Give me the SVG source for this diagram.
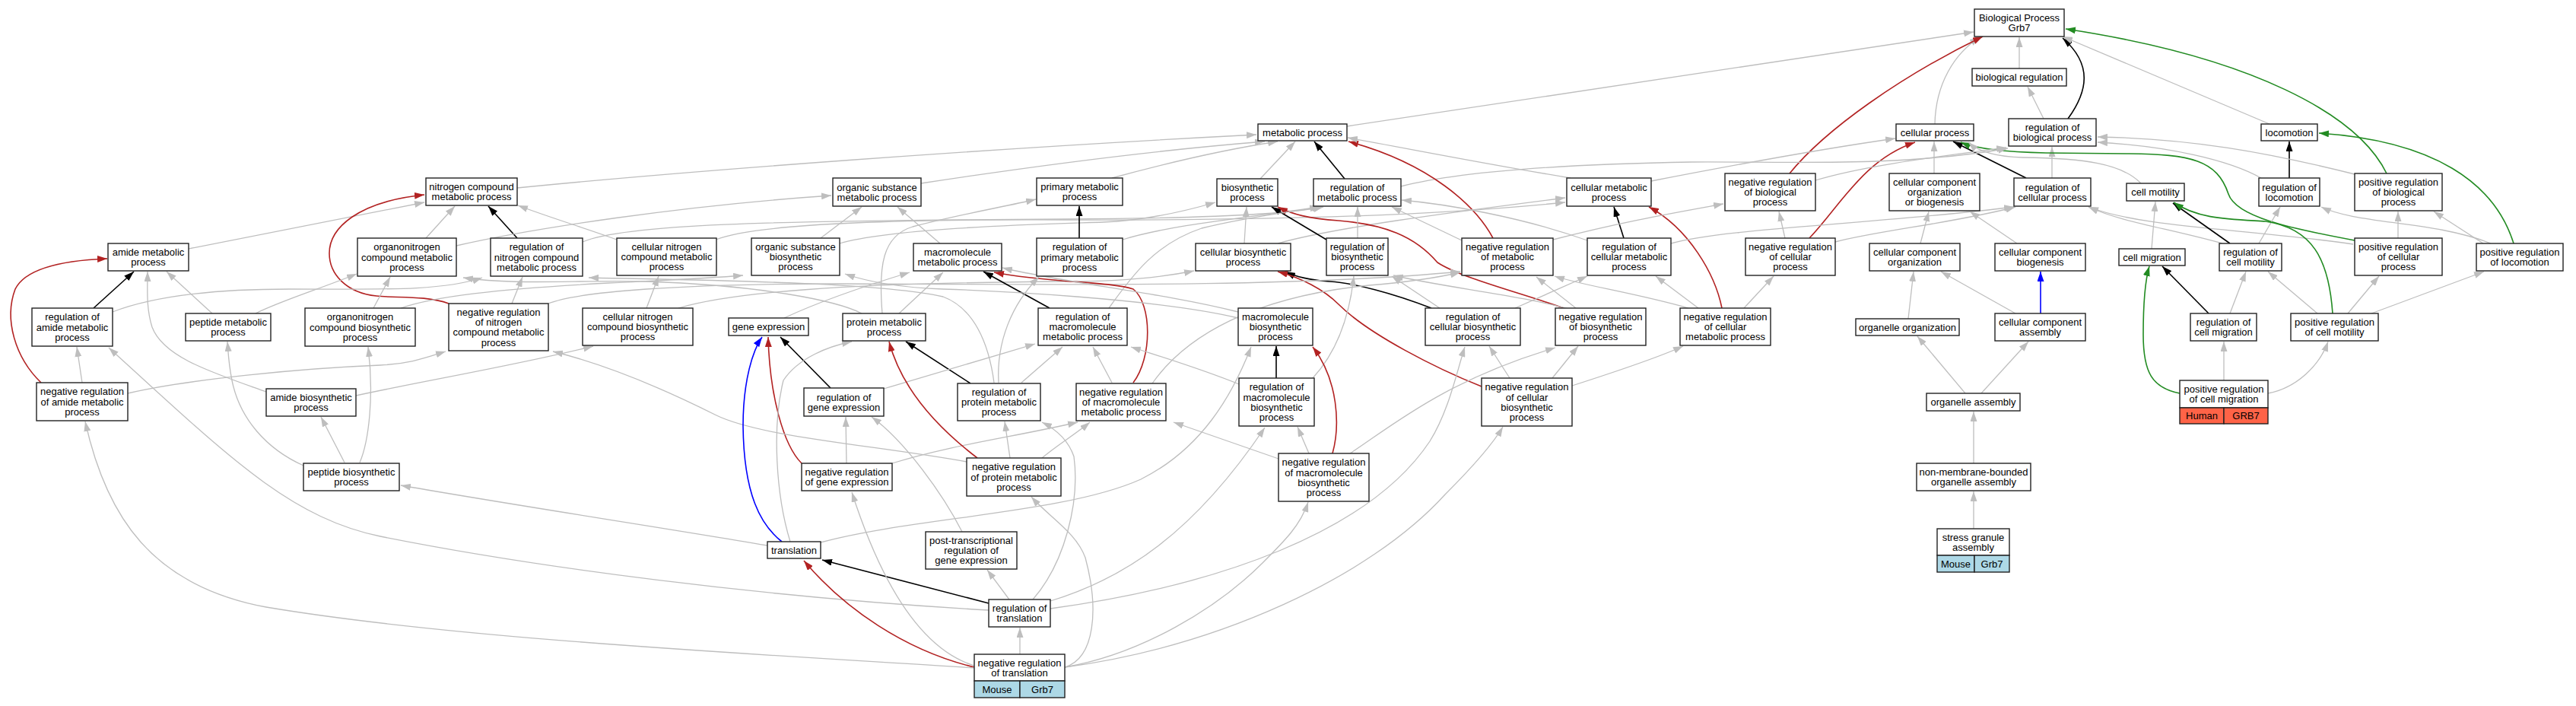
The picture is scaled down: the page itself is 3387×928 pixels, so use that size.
<svg xmlns="http://www.w3.org/2000/svg" width="3387" height="928" viewBox="0 0 3387 928">
<style>
.e{fill:none;stroke-width:1.3}
.g{stroke:#bebebe;marker-end:url(#ag)}
.k{stroke:#000;stroke-width:1.6;marker-end:url(#ak)}
.r{stroke:#b22222;stroke-width:1.6;marker-end:url(#ar)}
.n{stroke:#228b22;stroke-width:1.6;marker-end:url(#an)}
.b{stroke:#0000ff;stroke-width:1.6;marker-end:url(#ab)}
.box{fill:#fff;stroke:#222;stroke-width:1.4}
.mo{fill:#add8e6;stroke:#222;stroke-width:1.4}
.hu{fill:#ff6347;stroke:#222;stroke-width:1.4}
text{font-family:"Liberation Sans",Arial,sans-serif;font-size:13px;text-anchor:middle;fill:#000}
</style>
<defs>
<marker id="ag" viewBox="0 0 13 9" refX="13" refY="4.5" markerWidth="13" markerHeight="9" markerUnits="userSpaceOnUse" orient="auto"><path d="M0,0L13,4.5L0,9z" fill="#bebebe"/></marker>
<marker id="ak" viewBox="0 0 13 9" refX="13" refY="4.5" markerWidth="13" markerHeight="9" markerUnits="userSpaceOnUse" orient="auto"><path d="M0,0L13,4.5L0,9z" fill="#000"/></marker>
<marker id="ar" viewBox="0 0 13 9" refX="13" refY="4.5" markerWidth="13" markerHeight="9" markerUnits="userSpaceOnUse" orient="auto"><path d="M0,0L13,4.5L0,9z" fill="#b22222"/></marker>
<marker id="an" viewBox="0 0 13 9" refX="13" refY="4.5" markerWidth="13" markerHeight="9" markerUnits="userSpaceOnUse" orient="auto"><path d="M0,0L13,4.5L0,9z" fill="#228b22"/></marker>
<marker id="ab" viewBox="0 0 13 9" refX="13" refY="4.5" markerWidth="13" markerHeight="9" markerUnits="userSpaceOnUse" orient="auto"><path d="M0,0L13,4.5L0,9z" fill="#0000ff"/></marker>
</defs>
<rect width="3387" height="928" fill="#fff"/>
<g id="edges">
<path class="e g" d="M2655,90 L2655,49"/>
<path class="e g" d="M2544,163 C2545,110 2570,70 2603,49"/>
<path class="e g" d="M2687,156 L2666,114"/>
<path class="e k" d="M2719,156 C2745,120 2752,85 2712,50"/>
<path class="e g" d="M2984,163 L2712,48"/>
<path class="e g" d="M1771,166 L2595,42"/>
<path class="e r" d="M2353,228 C2400,170 2500,100 2607,48"/>
<path class="e n" d="M3138,228 C3100,150 2960,75 2716,38"/>
<path class="e g" d="M2543,228 L2543,186"/>
<path class="e k" d="M2664,234 L2568,186"/>
<path class="e g" d="M2698,234 L2698,193"/>
<path class="e n" d="M3096,316 C3010,300 2940,285 2930,255 C2915,210 2880,203 2800,202 L2690,201 C2640,200 2600,196 2578,187"/>
<path class="e g" d="M2815,241 C2790,215 2740,208 2660,207 C2620,206 2600,198 2588,187"/>
<path class="e g" d="M2171,238 C2300,213 2400,195 2492,182"/>
<path class="e r" d="M2379,313 C2420,270 2450,210 2518,187"/>
<path class="e g" d="M2387,237 C2450,218 2540,207 2638,194"/>
<path class="e g" d="M1842,245 C1920,225 2050,216 2223,213 C2350,212 2500,220 2640,195"/>
<path class="e k" d="M3010,234 L3010,186"/>
<path class="e g" d="M2973,234 C2930,210 2850,192 2758,187"/>
<path class="e g" d="M3096,229 C2980,200 2880,182 2758,180"/>
<path class="e g" d="M3153,313 L3153,278"/>
<path class="e g" d="M3094,321 C2950,300 2820,300 2746,272"/>
<path class="e g" d="M2922,320 C2850,300 2790,292 2746,272"/>
<path class="e k" d="M2932,320 L2857,267"/>
<path class="e g" d="M2970,320 L2998,272"/>
<path class="e g" d="M3275,320 C3200,290 3100,295 3052,272"/>
<path class="e g" d="M3265,320 L3200,278"/>
<path class="e n" d="M3305,320 C3280,240 3200,185 3049,175"/>
<path class="e g" d="M2829,327 L2834,265"/>
<path class="e k" d="M2904,412 L2843,350"/>
<path class="e g" d="M2932,412 L2953,357"/>
<path class="e g" d="M3047,412 L2982,357"/>
<path class="e g" d="M3087,412 L3128,363"/>
<path class="e g" d="M3118,412 L3266,357"/>
<path class="e n" d="M3067,412 C3062,340 3040,300 2979,291 C2930,288 2890,288 2858,266"/>
<path class="e g" d="M2924,500 L2924,449"/>
<path class="e g" d="M2982,517 C3020,510 3050,480 3061,449"/>
<path class="e n" d="M2866,517 C2830,510 2818,490 2818,440 C2818,400 2820,370 2826,350"/>
<path class="e g" d="M2525,320 L2536,278"/>
<path class="e g" d="M2652,320 L2590,278"/>
<path class="e b" d="M2683,412 L2683,357"/>
<path class="e g" d="M2650,412 L2552,357"/>
<path class="e g" d="M2509,419 L2516,357"/>
<path class="e g" d="M2584,517 L2521,442"/>
<path class="e g" d="M2605,517 L2667,449"/>
<path class="e g" d="M2595,609 L2595,541"/>
<path class="e g" d="M2595,695 L2595,646"/>
<path class="e g" d="M680,247 C900,225 1300,195 1652,177"/>
<path class="e g" d="M1211,241 C1400,212 1550,195 1663,186"/>
<path class="e g" d="M1462,234 C1550,210 1620,195 1680,186"/>
<path class="e g" d="M1657,235 L1703,186"/>
<path class="e k" d="M1768,235 L1728,186"/>
<path class="e r" d="M1963,313 C1940,270 1880,215 1773,186"/>
<path class="e g" d="M2065,234 C1950,215 1850,195 1772,181"/>
<path class="e g" d="M248,327 L558,266"/>
<path class="e g" d="M560,313 L598,271"/>
<path class="e k" d="M680,313 L642,271"/>
<path class="e g" d="M811,315 C770,300 720,285 681,270"/>
<path class="e r" d="M590,399 C560,388 520,392 495,389 C455,385 433,360 433,333 C433,300 470,265 558,256"/>
<path class="e g" d="M600,323 C700,300 900,270 1093,257"/>
<path class="e g" d="M766,318 C820,295 1000,290 1400,288 C1600,287 1700,280 1740,272"/>
<path class="e g" d="M941,315 C1000,292 1200,288 1400,289 C1700,290 1900,282 2058,266"/>
<path class="e g" d="M1680,320 C1750,300 1900,280 2058,260"/>
<path class="e g" d="M1079,313 L1133,272"/>
<path class="e g" d="M1104,320 C1180,298 1400,294 1450,292 C1500,290 1550,280 1598,266"/>
<path class="e g" d="M1236,320 L1180,272"/>
<path class="e g" d="M1160,412 C1155,350 1160,310 1200,298 C1260,282 1320,272 1362,262"/>
<path class="e k" d="M1419,313 L1419,271"/>
<path class="e g" d="M1476,315 C1540,295 1650,285 1735,272"/>
<path class="e g" d="M1636,320 L1639,272"/>
<path class="e k" d="M1744,315 L1672,272"/>
<path class="e r" d="M2056,405 C2000,385 1920,365 1890,345 C1860,310 1820,295 1760,290 C1720,287 1700,282 1680,272"/>
<path class="e g" d="M1785,313 L1785,272"/>
<path class="e g" d="M1922,316 L1830,272"/>
<path class="e g" d="M2087,316 C2000,285 1900,268 1843,263"/>
<path class="e g" d="M1458,405 C1490,360 1520,320 1580,300 C1640,285 1700,278 1738,272"/>
<path class="e k" d="M2135,313 L2122,272"/>
<path class="e r" d="M2264,405 C2255,360 2220,300 2168,272"/>
<path class="e g" d="M2197,320 C2270,300 2450,296 2648,272"/>
<path class="e g" d="M2413,318 C2470,303 2570,293 2650,272"/>
<path class="e g" d="M2347,313 L2339,278"/>
<path class="e g" d="M2042,315 C2130,292 2200,280 2266,268"/>
<path class="e g" d="M2293,405 L2332,363"/>
<path class="e g" d="M2233,405 L2177,363"/>
<path class="e g" d="M2220,405 C2150,385 2080,375 2044,363"/>
<path class="e g" d="M1992,405 L2087,363"/>
<path class="e g" d="M1893,405 L1830,363"/>
<path class="e k" d="M1882,405 C1830,385 1780,372 1748,370 C1720,368 1700,362 1690,357"/>
<path class="e g" d="M2072,405 L2020,364"/>
<path class="e g" d="M2070,408 C2000,388 1900,378 1832,362"/>
<path class="e r" d="M1948,508 C1890,485 1800,440 1760,400 C1740,380 1710,365 1680,357"/>
<path class="e g" d="M1985,497 L1958,455"/>
<path class="e g" d="M2041,497 L2075,455"/>
<path class="e g" d="M2067,507 C2120,490 2180,470 2213,455"/>
<path class="e k" d="M123,405 L176,357"/>
<path class="e g" d="M148,410 C200,390 280,380 380,380 C500,380 580,383 634,365"/>
<path class="e g" d="M279,412 L219,357"/>
<path class="e g" d="M336,412 C370,395 420,380 469,360"/>
<path class="e g" d="M350,515 C280,490 215,470 200,430 C192,405 194,380 194,357"/>
<path class="e g" d="M468,520 C560,500 680,480 780,455"/>
<path class="e g" d="M491,405 L513,364"/>
<path class="e g" d="M527,405 C570,390 650,380 800,372 C880,368 930,366 977,362"/>
<path class="e g" d="M673,399 L687,364"/>
<path class="e g" d="M721,399 C760,383 900,373 1100,373 C1400,374 1700,378 1920,357"/>
<path class="e g" d="M850,405 L866,363"/>
<path class="e g" d="M892,405 C960,385 1100,372 1400,370 C1480,370 1530,364 1570,356"/>
<path class="e r" d="M54,503 C20,470 5,420 20,380 C35,350 90,342 141,340"/>
<path class="e g" d="M108,503 L101,456"/>
<path class="e g" d="M168,517 C250,498 400,484 500,480 C540,478 560,470 586,462"/>
<path class="e g" d="M453,608 L422,548"/>
<path class="e g" d="M399,612 C350,590 315,550 305,500 C300,475 300,460 299,449"/>
<path class="e g" d="M473,608 C485,580 492,520 484,456"/>
<path class="e g" d="M1031,418 C1080,395 1140,375 1196,358"/>
<path class="e g" d="M1182,412 L1240,358"/>
<path class="e g" d="M1133,412 C1100,395 1000,375 850,370 C750,368 680,375 609,365"/>
<path class="e k" d="M1380,405 L1293,357"/>
<path class="e r" d="M1490,503 C1515,470 1515,400 1490,380 C1460,370 1380,372 1307,358"/>
<path class="e g" d="M1628,410 C1530,385 1400,372 1318,352"/>
<path class="e g" d="M1628,418 C1520,392 1300,382 1240,380 C1180,378 1140,370 1111,360"/>
<path class="e g" d="M1313,503 C1310,450 1330,400 1366,364"/>
<path class="e g" d="M1307,503 C1300,450 1280,405 1240,390 C1150,370 900,368 774,365"/>
<path class="e k" d="M1276,504 L1191,449"/>
<path class="e g" d="M1343,503 L1397,456"/>
<path class="e k" d="M1092,510 L1026,443"/>
<path class="e g" d="M1162,511 C1250,485 1300,470 1361,452"/>
<path class="e g" d="M1462,503 L1437,456"/>
<path class="e g" d="M1515,504 C1560,440 1650,390 1800,375 C1860,370 1890,365 1920,358"/>
<path class="e g" d="M1629,505 C1580,485 1530,470 1487,456"/>
<path class="e k" d="M1678,497 L1678,455"/>
<path class="e g" d="M1726,497 C1760,460 1775,410 1780,363"/>
<path class="e r" d="M1752,596 C1762,560 1760,500 1726,456"/>
<path class="e g" d="M1721,596 L1706,561"/>
<path class="e g" d="M1681,603 L1543,555"/>
<path class="e g" d="M1775,596 C1830,560 1900,500 2045,457"/>
<path class="e r" d="M1054,609 C1030,585 1012,520 1010,443"/>
<path class="e g" d="M1113,609 L1112,548"/>
<path class="e g" d="M1173,609 C1250,585 1330,575 1417,555"/>
<path class="e r" d="M1285,602 C1230,560 1185,510 1169,449"/>
<path class="e g" d="M1328,602 L1321,554"/>
<path class="e g" d="M1271,607 C1150,585 1000,575 940,545 C880,515 800,480 727,462"/>
<path class="e g" d="M1370,602 C1390,585 1415,570 1433,555"/>
<path class="e g" d="M1265,699 C1240,650 1190,580 1146,548"/>
<path class="e b" d="M1028,712 C1000,690 978,650 977,560 C977,500 990,460 1002,443"/>
<path class="e g" d="M1009,717 C850,690 700,668 527,638"/>
<path class="e g" d="M1039,712 C1020,650 1015,560 1030,500 C1050,470 1090,455 1120,449"/>
<path class="e g" d="M1079,713 C1200,680 1400,675 1500,630 C1580,590 1620,520 1645,456"/>
<path class="e k" d="M1300,793 L1081,736"/>
<path class="e g" d="M1327,788 L1298,749"/>
<path class="e g" d="M1300,802 C1000,785 700,745 500,705 C380,680 300,600 143,457"/>
<path class="e g" d="M1381,790 C1480,760 1570,700 1663,562"/>
<path class="e g" d="M1381,800 C1600,770 1800,700 1880,580 C1905,540 1915,490 1926,456"/>
<path class="e g" d="M1358,788 C1400,740 1420,660 1412,600 C1405,580 1390,565 1370,555"/>
<path class="e r" d="M1281,877 C1190,855 1110,800 1057,737"/>
<path class="e g" d="M1341,860 L1341,825"/>
<path class="e g" d="M1281,875 C1200,850 1150,740 1120,647"/>
<path class="e g" d="M1281,878 C1000,860 600,840 350,798 C200,770 140,680 112,554"/>
<path class="e g" d="M1400,877 C1440,865 1445,800 1427,733 C1415,700 1380,680 1356,653"/>
<path class="e g" d="M1400,877 C1500,860 1600,800 1660,740 C1690,710 1710,690 1720,660"/>
<path class="e g" d="M1400,877 C1600,850 1800,760 1900,650 C1940,610 1965,580 1976,561"/>
</g>
<g id="n_bp"><rect class="box" x="2596" y="12" width="118" height="36"/><text x="2655" y="28"><tspan x="2655">Biological Process</tspan><tspan x="2655" dy="13.3">Grb7</tspan></text></g>
<g id="n_bioreg"><rect class="box" x="2593" y="90" width="124" height="23"/><text x="2655" y="106">biological regulation</text></g>
<g id="n_cellproc"><rect class="box" x="2493" y="163" width="102" height="22"/><text x="2544" y="178.6">cellular process</text></g>
<g id="n_regbp"><rect class="box" x="2641" y="156" width="115" height="36"/><text x="2698.5" y="172"><tspan x="2698.5">regulation of</tspan><tspan x="2698.5" dy="13.3">biological process</tspan></text></g>
<g id="n_loco"><rect class="box" x="2973" y="163" width="74" height="22"/><text x="3010" y="178.6">locomotion</text></g>
<g id="n_metab"><rect class="box" x="1654" y="163" width="117" height="22"/><text x="1712.5" y="178.6">metabolic process</text></g>
<g id="n_nitro"><rect class="box" x="560" y="234" width="120" height="36"/><text x="620" y="250"><tspan x="620">nitrogen compound</tspan><tspan x="620" dy="13.3">metabolic process</tspan></text></g>
<g id="n_orgsub"><rect class="box" x="1095" y="234" width="116" height="37"/><text x="1153" y="250.5"><tspan x="1153">organic substance</tspan><tspan x="1153" dy="13.3">metabolic process</tspan></text></g>
<g id="n_primary"><rect class="box" x="1363" y="234" width="113" height="36"/><text x="1419.5" y="250"><tspan x="1419.5">primary metabolic</tspan><tspan x="1419.5" dy="13.3">process</tspan></text></g>
<g id="n_biosyn"><rect class="box" x="1600" y="235" width="80" height="36"/><text x="1640" y="251"><tspan x="1640">biosynthetic</tspan><tspan x="1640" dy="13.3">process</tspan></text></g>
<g id="n_regmetab"><rect class="box" x="1727" y="235" width="115" height="36"/><text x="1784.5" y="251"><tspan x="1784.5">regulation of</tspan><tspan x="1784.5" dy="13.3">metabolic process</tspan></text></g>
<g id="n_cellmetab"><rect class="box" x="2060" y="234" width="111" height="37"/><text x="2115.5" y="250.5"><tspan x="2115.5">cellular metabolic</tspan><tspan x="2115.5" dy="13.3">process</tspan></text></g>
<g id="n_negregbp"><rect class="box" x="2268" y="228" width="119" height="49"/><text x="2327.5" y="243.8"><tspan x="2327.5">negative regulation</tspan><tspan x="2327.5" dy="13.3">of biological</tspan><tspan x="2327.5" dy="13.3">process</tspan></text></g>
<g id="n_ccob"><rect class="box" x="2484" y="228" width="119" height="49"/><text x="2543.5" y="243.8"><tspan x="2543.5">cellular component</tspan><tspan x="2543.5" dy="13.3">organization</tspan><tspan x="2543.5" dy="13.3">or biogenesis</tspan></text></g>
<g id="n_regcp"><rect class="box" x="2648" y="234" width="101" height="37"/><text x="2698.5" y="250.5"><tspan x="2698.5">regulation of</tspan><tspan x="2698.5" dy="13.3">cellular process</tspan></text></g>
<g id="n_cellmot"><rect class="box" x="2796" y="241" width="76" height="23"/><text x="2834" y="257">cell motility</text></g>
<g id="n_regloc"><rect class="box" x="2970" y="234" width="80" height="37"/><text x="3010" y="250.5"><tspan x="3010">regulation of</tspan><tspan x="3010" dy="13.3">locomotion</tspan></text></g>
<g id="n_posregbp"><rect class="box" x="3096" y="228" width="115" height="49"/><text x="3153.5" y="243.8"><tspan x="3153.5">positive regulation</tspan><tspan x="3153.5" dy="13.3">of biological</tspan><tspan x="3153.5" dy="13.3">process</tspan></text></g>
<g id="n_amide"><rect class="box" x="142" y="320" width="106" height="36"/><text x="195" y="336"><tspan x="195">amide metabolic</tspan><tspan x="195" dy="13.3">process</tspan></text></g>
<g id="n_orgnitro"><rect class="box" x="470" y="313" width="130" height="50"/><text x="535" y="329.3"><tspan x="535">organonitrogen</tspan><tspan x="535" dy="13.3">compound metabolic</tspan><tspan x="535" dy="13.3">process</tspan></text></g>
<g id="n_regnitro"><rect class="box" x="645" y="313" width="121" height="50"/><text x="705.5" y="329.3"><tspan x="705.5">regulation of</tspan><tspan x="705.5" dy="13.3">nitrogen compound</tspan><tspan x="705.5" dy="13.3">metabolic process</tspan></text></g>
<g id="n_cellnitro"><rect class="box" x="811" y="313" width="131" height="49"/><text x="876.5" y="328.8"><tspan x="876.5">cellular nitrogen</tspan><tspan x="876.5" dy="13.3">compound metabolic</tspan><tspan x="876.5" dy="13.3">process</tspan></text></g>
<g id="n_orgsubbio"><rect class="box" x="988" y="313" width="116" height="49"/><text x="1046" y="328.8"><tspan x="1046">organic substance</tspan><tspan x="1046" dy="13.3">biosynthetic</tspan><tspan x="1046" dy="13.3">process</tspan></text></g>
<g id="n_macro"><rect class="box" x="1201" y="320" width="116" height="36"/><text x="1259" y="336"><tspan x="1259">macromolecule</tspan><tspan x="1259" dy="13.3">metabolic process</tspan></text></g>
<g id="n_regprimary"><rect class="box" x="1363" y="313" width="113" height="50"/><text x="1419.5" y="329.3"><tspan x="1419.5">regulation of</tspan><tspan x="1419.5" dy="13.3">primary metabolic</tspan><tspan x="1419.5" dy="13.3">process</tspan></text></g>
<g id="n_cellbio"><rect class="box" x="1572" y="320" width="125" height="36"/><text x="1634.5" y="336"><tspan x="1634.5">cellular biosynthetic</tspan><tspan x="1634.5" dy="13.3">process</tspan></text></g>
<g id="n_regbio"><rect class="box" x="1744" y="313" width="81" height="49"/><text x="1784.5" y="328.8"><tspan x="1784.5">regulation of</tspan><tspan x="1784.5" dy="13.3">biosynthetic</tspan><tspan x="1784.5" dy="13.3">process</tspan></text></g>
<g id="n_negregmetab"><rect class="box" x="1922" y="313" width="120" height="49"/><text x="1982" y="328.8"><tspan x="1982">negative regulation</tspan><tspan x="1982" dy="13.3">of metabolic</tspan><tspan x="1982" dy="13.3">process</tspan></text></g>
<g id="n_regcellmetab"><rect class="box" x="2087" y="313" width="110" height="49"/><text x="2142" y="328.8"><tspan x="2142">regulation of</tspan><tspan x="2142" dy="13.3">cellular metabolic</tspan><tspan x="2142" dy="13.3">process</tspan></text></g>
<g id="n_negregcp"><rect class="box" x="2295" y="313" width="118" height="49"/><text x="2354" y="328.8"><tspan x="2354">negative regulation</tspan><tspan x="2354" dy="13.3">of cellular</tspan><tspan x="2354" dy="13.3">process</tspan></text></g>
<g id="n_cco"><rect class="box" x="2458" y="320" width="119" height="36"/><text x="2517.5" y="336"><tspan x="2517.5">cellular component</tspan><tspan x="2517.5" dy="13.3">organization</tspan></text></g>
<g id="n_ccbiogen"><rect class="box" x="2623" y="320" width="119" height="36"/><text x="2682.5" y="336"><tspan x="2682.5">cellular component</tspan><tspan x="2682.5" dy="13.3">biogenesis</tspan></text></g>
<g id="n_cellmig"><rect class="box" x="2786" y="327" width="87" height="22"/><text x="2829.5" y="342.6">cell migration</text></g>
<g id="n_regcellmot"><rect class="box" x="2918" y="320" width="82" height="36"/><text x="2959" y="336"><tspan x="2959">regulation of</tspan><tspan x="2959" dy="13.3">cell motility</tspan></text></g>
<g id="n_posregcp"><rect class="box" x="3096" y="313" width="115" height="49"/><text x="3153.5" y="328.8"><tspan x="3153.5">positive regulation</tspan><tspan x="3153.5" dy="13.3">of cellular</tspan><tspan x="3153.5" dy="13.3">process</tspan></text></g>
<g id="n_posregloc"><rect class="box" x="3256" y="320" width="114" height="36"/><text x="3313" y="336"><tspan x="3313">positive regulation</tspan><tspan x="3313" dy="13.3">of locomotion</tspan></text></g>
<g id="n_regamide"><rect class="box" x="42" y="405" width="106" height="50"/><text x="95" y="421.3"><tspan x="95">regulation of</tspan><tspan x="95" dy="13.3">amide metabolic</tspan><tspan x="95" dy="13.3">process</tspan></text></g>
<g id="n_peptide"><rect class="box" x="244" y="412" width="112" height="36"/><text x="300" y="428"><tspan x="300">peptide metabolic</tspan><tspan x="300" dy="13.3">process</tspan></text></g>
<g id="n_orgnitrobio"><rect class="box" x="401" y="405" width="145" height="50"/><text x="473.5" y="421.3"><tspan x="473.5">organonitrogen</tspan><tspan x="473.5" dy="13.3">compound biosynthetic</tspan><tspan x="473.5" dy="13.3">process</tspan></text></g>
<g id="n_negregnitro"><rect class="box" x="590" y="399" width="131" height="62"/><text x="655.5" y="414.6"><tspan x="655.5">negative regulation</tspan><tspan x="655.5" dy="13.3">of nitrogen</tspan><tspan x="655.5" dy="13.3">compound metabolic</tspan><tspan x="655.5" dy="13.3">process</tspan></text></g>
<g id="n_cellnitrobio"><rect class="box" x="766" y="405" width="145" height="49"/><text x="838.5" y="420.8"><tspan x="838.5">cellular nitrogen</tspan><tspan x="838.5" dy="13.3">compound biosynthetic</tspan><tspan x="838.5" dy="13.3">process</tspan></text></g>
<g id="n_geneexp"><rect class="box" x="958" y="418" width="105" height="23"/><text x="1010.5" y="434">gene expression</text></g>
<g id="n_protein"><rect class="box" x="1108" y="412" width="109" height="36"/><text x="1162.5" y="428"><tspan x="1162.5">protein metabolic</tspan><tspan x="1162.5" dy="13.3">process</tspan></text></g>
<g id="n_regmacro"><rect class="box" x="1365" y="405" width="117" height="49"/><text x="1423.5" y="420.8"><tspan x="1423.5">regulation of</tspan><tspan x="1423.5" dy="13.3">macromolecule</tspan><tspan x="1423.5" dy="13.3">metabolic process</tspan></text></g>
<g id="n_macrobio"><rect class="box" x="1628" y="405" width="98" height="49"/><text x="1677" y="420.8"><tspan x="1677">macromolecule</tspan><tspan x="1677" dy="13.3">biosynthetic</tspan><tspan x="1677" dy="13.3">process</tspan></text></g>
<g id="n_regcellbio"><rect class="box" x="1874" y="405" width="125" height="49"/><text x="1936.5" y="420.8"><tspan x="1936.5">regulation of</tspan><tspan x="1936.5" dy="13.3">cellular biosynthetic</tspan><tspan x="1936.5" dy="13.3">process</tspan></text></g>
<g id="n_negregbio"><rect class="box" x="2045" y="405" width="119" height="49"/><text x="2104.5" y="420.8"><tspan x="2104.5">negative regulation</tspan><tspan x="2104.5" dy="13.3">of biosynthetic</tspan><tspan x="2104.5" dy="13.3">process</tspan></text></g>
<g id="n_negregcellmetab"><rect class="box" x="2209" y="405" width="119" height="49"/><text x="2268.5" y="420.8"><tspan x="2268.5">negative regulation</tspan><tspan x="2268.5" dy="13.3">of cellular</tspan><tspan x="2268.5" dy="13.3">metabolic process</tspan></text></g>
<g id="n_orgorg"><rect class="box" x="2440" y="419" width="136" height="22"/><text x="2508" y="434.6">organelle organization</text></g>
<g id="n_ccassembly"><rect class="box" x="2623" y="412" width="119" height="36"/><text x="2682.5" y="428"><tspan x="2682.5">cellular component</tspan><tspan x="2682.5" dy="13.3">assembly</tspan></text></g>
<g id="n_regcellmig"><rect class="box" x="2880" y="412" width="87" height="36"/><text x="2923.5" y="428"><tspan x="2923.5">regulation of</tspan><tspan x="2923.5" dy="13.3">cell migration</tspan></text></g>
<g id="n_posregcellmot"><rect class="box" x="3012" y="412" width="115" height="36"/><text x="3069.5" y="428"><tspan x="3069.5">positive regulation</tspan><tspan x="3069.5" dy="13.3">of cell motility</tspan></text></g>
<g id="n_negregamide"><rect class="box" x="48" y="503" width="120" height="50"/><text x="108" y="519.3"><tspan x="108">negative regulation</tspan><tspan x="108" dy="13.3">of amide metabolic</tspan><tspan x="108" dy="13.3">process</tspan></text></g>
<g id="n_amidebio"><rect class="box" x="350" y="511" width="118" height="36"/><text x="409" y="527"><tspan x="409">amide biosynthetic</tspan><tspan x="409" dy="13.3">process</tspan></text></g>
<g id="n_reggene"><rect class="box" x="1057" y="510" width="105" height="37"/><text x="1109.5" y="526.5"><tspan x="1109.5">regulation of</tspan><tspan x="1109.5" dy="13.3">gene expression</tspan></text></g>
<g id="n_regprotein"><rect class="box" x="1259" y="504" width="109" height="49"/><text x="1313.5" y="519.8"><tspan x="1313.5">regulation of</tspan><tspan x="1313.5" dy="13.3">protein metabolic</tspan><tspan x="1313.5" dy="13.3">process</tspan></text></g>
<g id="n_negregmacro"><rect class="box" x="1415" y="504" width="118" height="49"/><text x="1474" y="519.8"><tspan x="1474">negative regulation</tspan><tspan x="1474" dy="13.3">of macromolecule</tspan><tspan x="1474" dy="13.3">metabolic process</tspan></text></g>
<g id="n_regmacrobio"><rect class="box" x="1629" y="497" width="99" height="63"/><text x="1678.5" y="513.2"><tspan x="1678.5">regulation of</tspan><tspan x="1678.5" dy="13.3">macromolecule</tspan><tspan x="1678.5" dy="13.3">biosynthetic</tspan><tspan x="1678.5" dy="13.3">process</tspan></text></g>
<g id="n_negregcellbio"><rect class="box" x="1948" y="497" width="119" height="63"/><text x="2007.5" y="513.2"><tspan x="2007.5">negative regulation</tspan><tspan x="2007.5" dy="13.3">of cellular</tspan><tspan x="2007.5" dy="13.3">biosynthetic</tspan><tspan x="2007.5" dy="13.3">process</tspan></text></g>
<g id="n_orgassembly"><rect class="box" x="2533" y="517" width="123" height="23"/><text x="2594.5" y="533">organelle assembly</text></g>
<g id="n_posregcellmig"><rect class="box" x="2866" y="500" width="116" height="36"/><text x="2924" y="516"><tspan x="2924">positive regulation</tspan><tspan x="2924" dy="13.3">of cell migration</tspan></text><rect class="hu" x="2866" y="536" width="58" height="21"/><rect class="hu" x="2924" y="536" width="58" height="21"/><text x="2895" y="551">Human</text><text x="2953" y="551">GRB7</text></g>
<g id="n_peptidebio"><rect class="box" x="399" y="609" width="126" height="36"/><text x="462" y="625"><tspan x="462">peptide biosynthetic</tspan><tspan x="462" dy="13.3">process</tspan></text></g>
<g id="n_neggene"><rect class="box" x="1054" y="609" width="119" height="36"/><text x="1113.5" y="625"><tspan x="1113.5">negative regulation</tspan><tspan x="1113.5" dy="13.3">of gene expression</tspan></text></g>
<g id="n_negprotein"><rect class="box" x="1271" y="602" width="124" height="50"/><text x="1333" y="618.3"><tspan x="1333">negative regulation</tspan><tspan x="1333" dy="13.3">of protein metabolic</tspan><tspan x="1333" dy="13.3">process</tspan></text></g>
<g id="n_negmacrobio"><rect class="box" x="1681" y="596" width="119" height="63"/><text x="1740.5" y="612.2"><tspan x="1740.5">negative regulation</tspan><tspan x="1740.5" dy="13.3">of macromolecule</tspan><tspan x="1740.5" dy="13.3">biosynthetic</tspan><tspan x="1740.5" dy="13.3">process</tspan></text></g>
<g id="n_nonmem"><rect class="box" x="2520" y="609" width="150" height="36"/><text x="2595" y="625"><tspan x="2595">non-membrane-bounded</tspan><tspan x="2595" dy="13.3">organelle assembly</tspan></text></g>
<g id="n_translation"><rect class="box" x="1009" y="712" width="70" height="22"/><text x="1044" y="727.6">translation</text></g>
<g id="n_posttrans"><rect class="box" x="1217" y="699" width="120" height="49"/><text x="1277" y="714.8"><tspan x="1277">post-transcriptional</tspan><tspan x="1277" dy="13.3">regulation of</tspan><tspan x="1277" dy="13.3">gene expression</tspan></text></g>
<g id="n_stress"><rect class="box" x="2547" y="695" width="95" height="35"/><text x="2594.5" y="710.5"><tspan x="2594.5">stress granule</tspan><tspan x="2594.5" dy="13.3">assembly</tspan></text><rect class="mo" x="2547" y="730" width="49" height="22"/><rect class="mo" x="2596" y="730" width="46" height="22"/><text x="2571.5" y="745.5">Mouse</text><text x="2619" y="745.5">Grb7</text></g>
<g id="n_regtrans"><rect class="box" x="1300" y="788" width="81" height="36"/><text x="1340.5" y="804"><tspan x="1340.5">regulation of</tspan><tspan x="1340.5" dy="13.3">translation</tspan></text></g>
<g id="n_negtrans"><rect class="box" x="1281" y="860" width="119" height="35"/><text x="1340.5" y="875.5"><tspan x="1340.5">negative regulation</tspan><tspan x="1340.5" dy="13.3">of translation</tspan></text><rect class="mo" x="1281" y="895" width="60" height="22"/><rect class="mo" x="1341" y="895" width="59" height="22"/><text x="1311" y="910.5">Mouse</text><text x="1370.5" y="910.5">Grb7</text></g>
</svg>
